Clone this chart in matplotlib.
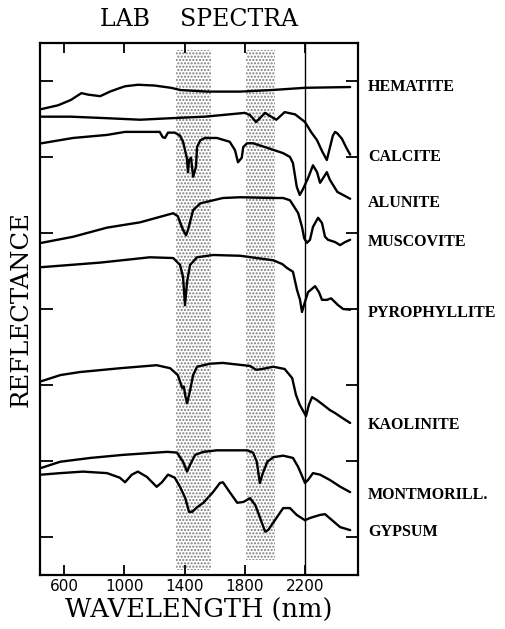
import matplotlib
matplotlib.use("Agg")
import matplotlib.pyplot as plt

# ---------------- data (wavelength nm, relative reflectance offset units) ----------------
wl_hematite = [450, 560, 645, 715, 760, 840, 905, 960, 1005, 1090, 1200, 1310, 1375, 1550, 1770,
               1975, 2200, 2500]
r_hematite = [6.13, 6.18, 6.25, 6.34, 6.32, 6.30, 6.36, 6.40, 6.43, 6.45, 6.44, 6.41, 6.38, 6.36, 6.36,
              6.38, 6.41, 6.42]

wl_calcite = [450, 645, 885, 1105, 1310, 1535, 1800, 1835, 1875, 1935, 1975, 2010, 2065, 2135,
              2200, 2240, 2280, 2315, 2345, 2370, 2385, 2400, 2415, 2445, 2475, 2500]
r_calcite = [6.03, 6.03, 6.01, 5.99, 6.01, 6.03, 6.08, 6.05, 5.96, 6.08, 6.03, 5.99, 6.09, 6.06,
             5.96, 5.83, 5.72, 5.57, 5.46, 5.66, 5.78, 5.83, 5.81, 5.74, 5.62, 5.53]

wl_alunite = [450, 660, 885, 1005, 1235, 1255, 1270, 1290, 1335, 1370, 1390, 1415, 1423, 1430, 1443,
              1457, 1476, 1483, 1505, 1535, 1615, 1700, 1735, 1755, 1780, 1790, 1815, 1855, 1950,
              2055, 2100, 2120, 2145, 2165, 2185, 2220, 2253, 2280, 2300, 2320, 2345, 2365, 2415,
              2500]
r_alunite = [5.68, 5.75, 5.79, 5.83, 5.83, 5.76, 5.75, 5.82, 5.82, 5.78, 5.70, 5.49, 5.30, 5.46, 5.49,
             5.24, 5.37, 5.63, 5.72, 5.75, 5.75, 5.70, 5.59, 5.43, 5.49, 5.63, 5.68, 5.68, 5.62,
             5.55, 5.50, 5.42, 5.11, 5.00, 5.07, 5.22, 5.39, 5.30, 5.16, 5.22, 5.30, 5.20, 5.04,
             4.95]

wl_muscovite = [450, 660, 885, 1105, 1325, 1355, 1390, 1410, 1423, 1457, 1505, 1655, 1770, 1990, 2055,
                2100, 2120, 2155, 2180, 2195, 2213, 2233, 2253, 2287, 2313, 2333, 2353, 2400, 2433,
                2466, 2500]
r_muscovite = [4.37, 4.45, 4.57, 4.64, 4.76, 4.72, 4.54, 4.47, 4.54, 4.80, 4.89, 4.96, 4.97, 4.96, 4.96,
               4.93, 4.87, 4.76, 4.58, 4.43, 4.37, 4.41, 4.58, 4.70, 4.63, 4.45, 4.41, 4.38, 4.34,
               4.38, 4.41]

wl_pyrophyllite = [450, 840, 1170, 1325, 1370, 1390, 1403, 1417, 1437, 1483, 1590, 1770, 1990, 2050,
                   2080, 2120, 2147, 2167, 2180, 2193, 2220, 2267, 2293, 2313, 2346, 2373, 2420,
                   2453, 2500]
r_pyrophyllite = [4.05, 4.11, 4.18, 4.17, 4.08, 3.92, 3.55, 3.86, 4.08, 4.18, 4.21, 4.20, 4.14, 4.09,
                  4.04, 3.99, 3.75, 3.62, 3.46, 3.55, 3.72, 3.80, 3.72, 3.62, 3.62, 3.64, 3.55,
                  3.50, 3.49]

wl_kaolinite = [450, 575, 705, 970, 1215, 1305, 1355, 1385, 1395, 1405, 1417, 1437, 1457, 1483, 1570,
                1655, 1835, 1875, 1915, 1990, 2065, 2115, 2140, 2165, 2193, 2207, 2226, 2247, 2280,
                2320, 2365, 2400, 2445, 2500]
r_kaolinite = [2.55, 2.63, 2.67, 2.72, 2.76, 2.72, 2.63, 2.46, 2.48, 2.36, 2.26, 2.43, 2.63, 2.74, 2.78,
               2.79, 2.75, 2.70, 2.71, 2.74, 2.71, 2.59, 2.37, 2.24, 2.14, 2.09, 2.24, 2.34, 2.30,
               2.24, 2.17, 2.13, 2.07, 2.00]

wl_montmorillonite = [450, 575, 775, 990, 1285, 1350, 1390, 1417, 1437, 1470, 1525, 1615, 1815, 1855,
                      1880, 1900, 1920, 1950, 1990, 2055, 2120, 2155, 2200, 2220, 2253, 2300, 2365,
                      2435, 2500]
r_montmorillonite = [1.41, 1.49, 1.54, 1.58, 1.62, 1.61, 1.49, 1.36, 1.45, 1.58, 1.62, 1.64, 1.64, 1.61,
                     1.49, 1.21, 1.34, 1.49, 1.55, 1.57, 1.54, 1.42, 1.21, 1.25, 1.34, 1.32, 1.25,
                     1.16, 1.09]

wl_gypsum = [450, 575, 725, 885, 970, 1005, 1050, 1090, 1150, 1215, 1250, 1290, 1335, 1370, 1405,
             1430, 1450, 1483, 1525, 1585, 1635, 1655, 1700, 1750, 1790, 1835, 1870, 1900, 1935,
             1955, 2000, 2055, 2100, 2145, 2200, 2233, 2300, 2333, 2380, 2433, 2500]
r_gypsum = [1.32, 1.34, 1.36, 1.34, 1.28, 1.22, 1.32, 1.36, 1.29, 1.16, 1.22, 1.32, 1.28, 1.16, 1.01,
            0.83, 0.83, 0.89, 0.95, 1.08, 1.21, 1.22, 1.09, 0.95, 0.96, 1.01, 0.92, 0.76, 0.57,
            0.59, 0.72, 0.88, 0.88, 0.79, 0.72, 0.75, 0.79, 0.80, 0.72, 0.63, 0.59]

series = [
    ("HEMATITE", wl_hematite, r_hematite),
    ("CALCITE", wl_calcite, r_calcite),
    ("ALUNITE", wl_alunite, r_alunite),
    ("MUSCOVITE", wl_muscovite, r_muscovite),
    ("PYROPHYLLITE", wl_pyrophyllite, r_pyrophyllite),
    ("KAOLINITE", wl_kaolinite, r_kaolinite),
    ("MONTMORILL.", wl_montmorillonite, r_montmorillonite),
    ("GYPSUM", wl_gypsum, r_gypsum),
]
label_names = ["HEMATITE", "CALCITE", "ALUNITE", "MUSCOVITE", "PYROPHYLLITE",
               "KAOLINITE", "MONTMORILL.", "GYPSUM"]
label_levels = [6.42, 5.50, 4.89, 4.38, 3.45, 1.97, 1.05, 0.57]

band_lo = [1340, 1805]
band_hi = [1575, 2000]
band_bottom = [0.07, 0.20]
band_top = [6.91, 6.91]

x_ticks = [600, 1000, 1400, 1800, 2200]
y_ticks = [0.5, 1.5, 2.5, 3.5, 4.5, 5.5, 6.5]
ref_line = 2200

# ---------------- figure ----------------
plt.rcParams['hatch.linewidth'] = 1.0
fig = plt.figure(figsize=(5.05, 6.29), dpi=100)
ax = fig.add_axes([0.0792, 0.0859, 0.6297, 0.8458])

for lo, hi, b, t in zip(band_lo, band_hi, band_bottom, band_top):
    ax.fill_between([lo, hi], [b, b], [t, t], facecolor='white', edgecolor='#7a7a7a',
                    hatch='.....', linewidth=0, zorder=1)

ax.axvline(ref_line, color='black', lw=1.0, zorder=2)

for name, wl, r in series:
    ax.plot(wl, r, color='black', lw=1.7, solid_joinstyle='round', solid_capstyle='round', zorder=3)

for name, lvl in zip(label_names, label_levels):
    ax.text(1.031, lvl, name, transform=ax.get_yaxis_transform(), ha='left', va='center',
            fontsize=11.5, fontweight='bold', family='Liberation Serif', clip_on=False)

ax.set_xlim(440, 2552)
ax.set_ylim(0, 7)
ax.set_xticks(x_ticks)
ax.set_xticklabels([str(v) for v in x_ticks], fontsize=11, family='DejaVu Sans')
ax.set_yticks(y_ticks)
ax.set_yticklabels([])
ax.tick_params(axis='x', direction='in', top=True, bottom=True, length=7, width=1.3, pad=3)
ax.tick_params(axis='y', direction='in', left=True, right=True, length=9, width=1.3)
for s in ax.spines.values():
    s.set_linewidth(1.6)

ax.set_xlabel('WAVELENGTH (nm)', fontsize=18.5, family='DejaVu Serif', labelpad=3)
fig.text(21 / 505, 1 - 309 / 629, 'REFLECTANCE', rotation=90, ha='center', va='center',
         fontsize=17.5, family='DejaVu Serif')
fig.text(199 / 505, 1 - 20 / 629, 'LAB    SPECTRA', ha='center', va='center',
         fontsize=17, family='DejaVu Serif')

fig.savefig('out.png', dpi=100)
